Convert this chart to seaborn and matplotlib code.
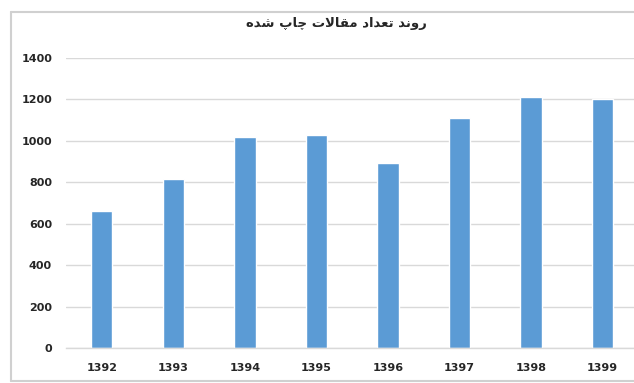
import matplotlib
matplotlib.use("Agg")
import matplotlib.pyplot as plt
import seaborn as sns
import pandas as pd
from matplotlib.lines import Line2D

# ---- data ----
years = ["1392", "1393", "1394", "1395", "1396", "1397", "1398", "1399"]
articles = [660, 815, 1017, 1027, 894, 1110, 1211, 1204]
y_ticks = [0, 200, 400, 600, 800, 1000, 1200, 1400]
title_text = "روند تعداد مقالات چاپ شده"

# ---- minimal Arabic/Persian shaping (matplotlib has no shaping engine) ----
FORMS = {  # isolated, final, initial, medial
    "ر": ("\uFEAD", "\uFEAE", None, None),
    "و": ("\uFEED", "\uFEEE", None, None),
    "د": ("\uFEA9", "\uFEAA", None, None),
    "ا": ("\uFE8D", "\uFE8E", None, None),
    "ن": ("\uFEE5", "\uFEE6", "\uFEE7", "\uFEE8"),
    "ت": ("\uFE95", "\uFE96", "\uFE97", "\uFE98"),
    "ع": ("\uFEC9", "\uFECA", "\uFECB", "\uFECC"),
    "م": ("\uFEE1", "\uFEE2", "\uFEE3", "\uFEE4"),
    "ق": ("\uFED5", "\uFED6", "\uFED7", "\uFED8"),
    "ل": ("\uFEDD", "\uFEDE", "\uFEDF", "\uFEE0"),
    "چ": ("\uFB7A", "\uFB7B", "\uFB7C", "\uFB7D"),
    "پ": ("\uFB56", "\uFB57", "\uFB58", "\uFB59"),
    "ش": ("\uFEB5", "\uFEB6", "\uFEB7", "\uFEB8"),
    "ه": ("\uFEE9", "\uFEEA", "\uFEEB", "\uFEEC"),
    "لا": ("\uFEFB", "\uFEFC", None, None),
}


def shape(text):
    out_words = []
    for word in text.split(" "):
        units = []
        i = 0
        while i < len(word):
            if word[i] == "ل" and i + 1 < len(word) and word[i + 1] == "ا":
                units.append("لا")
                i += 2
            else:
                units.append(word[i])
                i += 1
        shaped = []
        for k, u in enumerate(units):
            f = FORMS.get(u)
            if f is None:
                shaped.append(u)
                continue
            prev_joins = k > 0 and FORMS.get(units[k - 1], (None,) * 4)[2] is not None
            next_exists = k + 1 < len(units)
            can_left = f[2] is not None
            if prev_joins and next_exists and can_left:
                shaped.append(f[3])
            elif prev_joins:
                shaped.append(f[1])
            elif next_exists and can_left:
                shaped.append(f[2])
            else:
                shaped.append(f[0])
        out_words.append("".join(shaped))
    return " ".join(out_words)[::-1]


sns.set_style("white")
plt.rcParams["font.family"] = ["DejaVu Sans"]

fig = plt.figure(figsize=(6.34, 3.83), dpi=100)
ax = fig.add_axes([66 / 634, 1 - 348 / 383, 1 - 66 / 634, (348 - 58) / 383])

df = pd.DataFrame({"year": years, "count": articles})
sns.barplot(data=df, x="year", y="count", color="#5B9BD5", saturation=1,
            width=0.3, ax=ax)

ax.set_ylim(0, 1400)
ax.set_xlim(-0.5, 7.44)
ax.set_yticks(y_ticks)
ax.set_yticklabels([str(t) for t in y_ticks])
ax.set_xlabel("")
ax.set_ylabel("")
ax.yaxis.grid(True, color="#D9D9D9", linewidth=1)
ax.set_axisbelow(True)
for s in ["top", "right", "left"]:
    ax.spines[s].set_visible(False)
ax.spines["bottom"].set_color("#D9D9D9")
ax.spines["bottom"].set_linewidth(1)
ax.tick_params(axis="both", length=0, labelsize=8, colors="#262626")
ax.tick_params(axis="y", pad=10)
ax.tick_params(axis="x", pad=11)
for lab in ax.get_xticklabels() + ax.get_yticklabels():
    lab.set_fontweight("bold")

fig.text(336 / 634, 1 - 24 / 383, shape(title_text), ha="center", va="center",
         fontsize=9.5, fontweight="bold", color="#262626")

# chart frame: top, left and bottom edges only (right edge is cut off)
fx0, fy0, fy1 = 11 / 634, 1 - 381 / 383, 1 - 12 / 383
for xs, ys in [([fx0, 1.0], [fy1, fy1]), ([fx0, fx0], [fy0, fy1]),
               ([fx0, 1.0], [fy0, fy0])]:
    fig.add_artist(Line2D(xs, ys, transform=fig.transFigure,
                          color="#D0D0D0", linewidth=1.5))

fig.savefig("out.png", dpi=100)
